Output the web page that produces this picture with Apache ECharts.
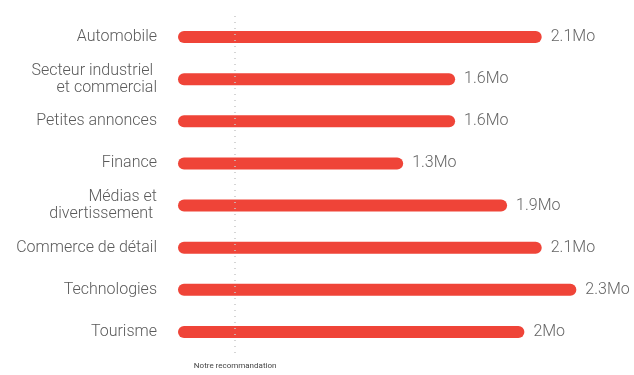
<!DOCTYPE html>
<html>
<head>
<meta charset="utf-8">
<script src="https://cdn.jsdelivr.net/npm/echarts@6/dist/echarts.min.js"></script>
<style>
  html, body { margin: 0; padding: 0; background: #ffffff; }
  #chart { width: 634px; height: 375px; }
</style>
</head>
<body>
<div id="chart"></div>
<script>
// Sectors (top to bottom)
const categories = [
  'Automobile',
  'Secteur industriel \net commercial',
  'Petites annonces',
  'Finance',
  'Médias et\ndivertissement ',
  'Commerce de détail',
  'Technologies',
  'Tourisme'
];
// Values in millions (Mo)
const values = [2.1, 1.6, 1.6, 1.3, 1.9, 2.1, 2.3, 2.0];
// Recommended threshold, shown as a dotted reference line
const recommendation = 0.33;
const recommendationLabel = 'Notre recommandation';
const unit = 'Mo';

const chart = echarts.init(document.getElementById('chart'), null, { renderer: 'canvas' });

chart.setOption({
  animation: false,
  backgroundColor: '#ffffff',
  grid: { left: 178, right: 23, top: 16, bottom: 22 },
  xAxis: {
    type: 'value',
    min: 0,
    max: 2.5,
    show: false
  },
  yAxis: {
    type: 'category',
    data: categories,
    inverse: true,
    axisLine: { show: false },
    axisTick: { show: false },
    splitLine: { show: false },
    axisLabel: {
      margin: 21,
      color: '#5a5a5a',
      fontFamily: 'Roboto',
      fontWeight: 300,
      fontSize: 16,
      lineHeight: 17,
      align: 'right'
    }
  },
  series: [{
    type: 'bar',
    data: values,
    barWidth: 12,
    itemStyle: { color: '#EF4438', borderRadius: 6 },
    label: {
      show: true,
      position: 'right',
      distance: 9,
      color: '#666666',
      fontFamily: 'Roboto',
      fontWeight: 300,
      fontSize: 16,
      formatter: p => p.value + unit
    },
    markLine: {
      silent: true,
      symbol: 'none',
      lineStyle: { color: '#c8c8c8', type: [1, 5], width: 1.5 },
      label: {
        show: true,
        position: 'end',
        formatter: recommendationLabel,
        color: '#444444',
        fontFamily: 'Roboto',
        fontSize: 8,
        distance: 9
      },
      data: [{ xAxis: recommendation }]
    }
  }]
});
</script>
</body>
</html>
